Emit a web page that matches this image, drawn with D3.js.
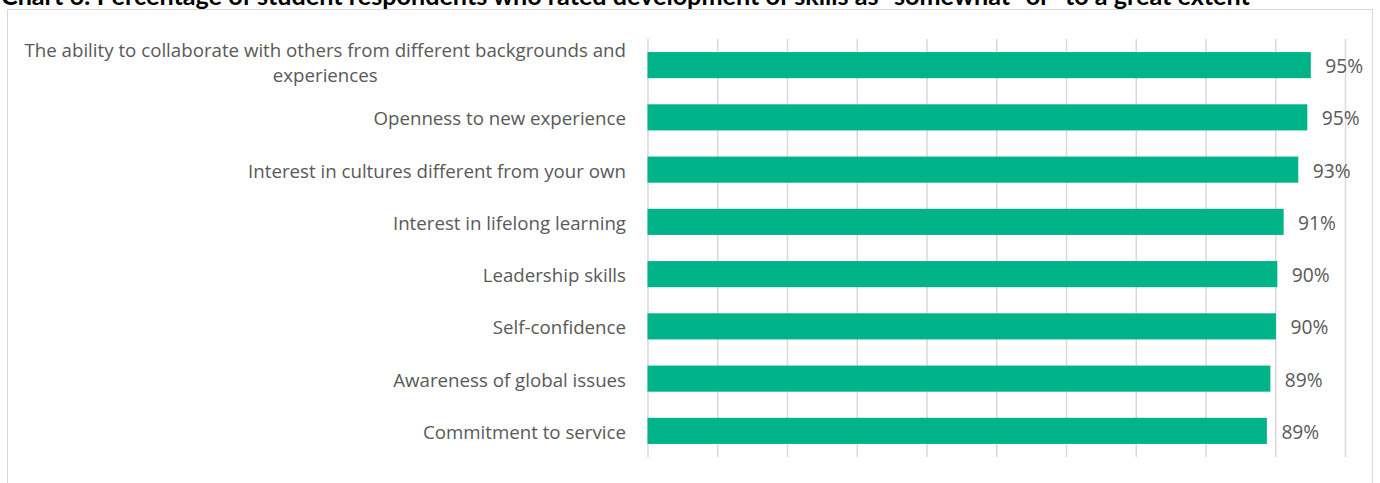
<!DOCTYPE html>
<html>
<head>
<meta charset="utf-8">
<script src="https://cdn.jsdelivr.net/npm/d3@7"></script>
<style>
  html, body { margin: 0; padding: 0; background: #fff; }
  svg { display: block; }
</style>
</head>
<body>
<div id="chart"></div>
<script>
// Skills rated as developed "somewhat" or "to a great extent"
const titleText = "Chart 6: Percentage of student respondents who rated development of skills as \u201csomewhat\u201d or \u201cto a great extent\u201d";
const categories = [
  "The ability to collaborate with others from different backgrounds and\nexperiences",
  "Openness to new experience",
  "Interest in cultures different from your own",
  "Interest in lifelong learning",
  "Leadership skills",
  "Self-confidence",
  "Awareness of global issues",
  "Commitment to service"
];
const shares = [0.951, 0.946, 0.933, 0.912, 0.903, 0.901, 0.893, 0.888];
const gridTicks = [0, 0.1, 0.2, 0.3, 0.4, 0.5, 0.6, 0.7, 0.8, 0.9, 1.0];

const W = 1380, H = 483;
const titleFont = "Lato, 'Open Sans', sans-serif";
const bodyFont = "'Open Sans', 'Noto Sans', sans-serif";
const textColor = "#595959";
const barColor = "#00B388";
const gridColor = "#d9d9d9";

const svg = d3.select("#chart").append("svg")
  .attr("width", W).attr("height", H);

// chart frame
svg.append("rect")
  .attr("x", 7.5).attr("y", 9.5)
  .attr("width", 1365).attr("height", 500)
  .attr("fill", "#fff")
  .attr("stroke", gridColor).attr("stroke-width", 1);

// title, sized to its line width
const title = svg.append("text")
  .attr("x", 1).attr("y", 5)
  .attr("font-family", titleFont)
  .attr("font-weight", 700)
  .attr("font-size", 18)
  .attr("fill", "#000")
  .text(titleText);
const tw = title.node().getComputedTextLength();
title.attr("font-size", 18 * 1259 / tw);

// body text size, chosen so the longest label line spans 602px
const probe = svg.append("text")
  .attr("font-family", bodyFont).attr("font-size", 16)
  .text(categories[0].split("\n")[0]);
const bodySize = 16 * 602 / probe.node().getComputedTextLength();
probe.remove();

const x = d3.scaleLinear().domain([0, 1]).range([647.5, 1345]);
const y = d3.scaleBand().domain(categories).range([39, 457])
  .paddingInner(0.5).paddingOuter(0.25);

// vertical gridlines
svg.append("g")
  .attr("transform", "translate(0,457)")
  .call(d3.axisBottom(x).tickValues(gridTicks).tickSize(-418).tickFormat(""))
  .call(g => g.select(".domain").remove())
  .call(g => g.selectAll(".tick line").attr("stroke", gridColor).attr("stroke-width", 1.5));

// bars
svg.append("g").selectAll("rect")
  .data(categories)
  .join("rect")
  .attr("x", x(0))
  .attr("y", d => y(d))
  .attr("width", (d, i) => x(shares[i]) - x(0))
  .attr("height", y.bandwidth())
  .attr("fill", barColor);

// value labels
const fmt = d3.format(".0%");
svg.append("g").selectAll("text")
  .data(categories)
  .join("text")
  .attr("x", (d, i) => x(shares[i]) + 14.5)
  .attr("y", d => y(d) + y.bandwidth() / 2 + 0.5)
  .attr("dominant-baseline", "central")
  .attr("font-family", bodyFont)
  .attr("font-size", bodySize + 0.5)
  .attr("fill", textColor)
  .text((d, i) => fmt(shares[i]));

// category labels
const lineGap = 25;
const labels = svg.append("g")
  .attr("font-family", bodyFont)
  .attr("font-size", bodySize)
  .attr("fill", textColor);

categories.forEach(cat => {
  const lines = cat.split("\n");
  const cy = y(cat) + y.bandwidth() / 2;
  const t = labels.append("text")
    .attr("dominant-baseline", "central");
  if (lines.length === 1) {
    t.append("tspan").attr("x", 626).attr("y", cy)
      .attr("text-anchor", "end").text(lines[0]);
  } else {
    const tmp = t.append("tspan").text(lines[0]);
    const w = tmp.node().getComputedTextLength();
    tmp.remove();
    const cx = 626 - w / 2;
    lines.forEach((ln, k) => {
      t.append("tspan")
        .attr("x", cx)
        .attr("y", cy + (k - (lines.length - 1) / 2) * lineGap - 4)
        .attr("text-anchor", "middle")
        .text(ln);
    });
  }
});
</script>
</body>
</html>
